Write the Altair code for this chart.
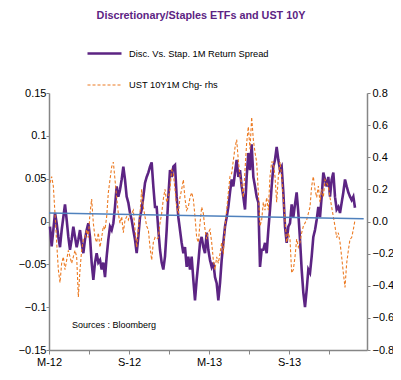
import altair as alt
import pandas as pd

title_text = "Discretionary/Staples ETFs and UST 10Y"
purple_name = "Disc. Vs. Stap. 1M Return Spread"
orange_name = "UST 10Y1M Chg- rhs"
source_text = "Sources : Bloomberg"
x_tick_labels = ["M-12", "S-12", "M-13", "S-13"]
x_tick_values = [0, 3, 6, 9, 12, 15, 18, 21]   # months since Mar-2012
left_ticks = [-0.15, -0.1, -0.05, 0, 0.05, 0.1, 0.15]
right_ticks = [-0.8, -0.6, -0.4, -0.2, 0.0, 0.2, 0.4, 0.6, 0.8]

# sampling grid (months since 1 Mar 2012)
x_start = 0.075
x_step = 0.125

# Discretionary vs Staples 1M return spread (lhs)
spread = [
    -0.006, -0.029, -0.010, 0.010, -0.002, -0.018, -0.030, -0.010, 0.005, 0.020,
    0.002, -0.018, -0.033, -0.021, -0.006, -0.018, -0.030, -0.021, -0.010, -0.025,
    -0.037, -0.021, -0.010, -0.002, -0.018, -0.048, -0.068, -0.048, -0.037, -0.048,
    -0.045, -0.056, -0.048, -0.065, -0.041, -0.021, -0.006, -0.010, -0.002, 0.017,
    0.041, 0.029, 0.037, 0.049, 0.064, 0.049, 0.029, 0.022, 0.010,
    0.002, -0.010, -0.021, -0.037, -0.018, 0.005, 0.014, 0.029, 0.045, 0.052,
    0.057, 0.064, 0.069, 0.041, 0.017, 0.017, -0.010, -0.033, -0.048, -0.056,
    -0.041, -0.010, 0.029, 0.060, 0.052, 0.064, 0.066, 0.029, 0.005, -0.010,
    -0.025, -0.037, -0.030, -0.053, -0.041, -0.056, -0.041, -0.068, -0.092, -0.068,
    -0.048, -0.025, -0.018, -0.030, -0.037, -0.013, -0.033, -0.045,
    -0.053, -0.048, -0.065, -0.072, -0.092, -0.072, -0.045, -0.025, -0.006, 0.005,
    0.017, 0.034, 0.049, 0.041, 0.057, 0.072, 0.052, 0.060, 0.041, 0.029,
    0.014, 0.052, 0.080, 0.060, 0.090, 0.052, 0.041, 0.029, 0.022, -0.053,
    -0.033, -0.033, -0.025, -0.037, -0.010, 0.014, 0.041, 0.064, 0.072, 0.087,
    0.072, 0.060, 0.064, 0.034, -0.006, -0.025, -0.006, -0.002,
    0.020, 0.005, 0.020, 0.034, 0.010, -0.021, -0.056, -0.083, -0.100, -0.080,
    -0.056, -0.060, -0.041, -0.018, -0.010, 0.002, 0.017, 0.005, 0.029, 0.057,
    0.049, 0.041, 0.052, 0.029, 0.049, 0.057, 0.029, 0.014, 0.017, 0.010,
    0.022, 0.034, 0.049, 0.041, 0.034, 0.029, 0.025, 0.029, 0.016,
]

# UST 10Y 1M change (rhs)
ust = [
    0.24, 0.28, 0.22, 0.05, -0.13, -0.30, -0.38, -0.26, -0.22, -0.30,
    -0.24, -0.18, -0.22, -0.26, -0.22, -0.18, -0.22, -0.47, -0.30, -0.18,
    -0.11, -0.10, -0.05, -0.10, 0.05, 0.14, -0.01, -0.10, -0.13, -0.07,
    -0.16, -0.10, -0.03, -0.05, 0.03, 0.18, 0.26, 0.34, 0.37, 0.26,
    0.15, 0.05, -0.01, 0.03, -0.07, 0.01, 0.03, 0.01, 0.05,
    0.05, 0.07, -0.05, -0.16, -0.05, 0.05, 0.20, 0.09, 0.03, -0.03,
    -0.05, -0.16, -0.24, -0.13, -0.10, -0.11, -0.10, -0.01, 0.05, 0.14,
    0.20, 0.12, 0.15, 0.20, 0.32, 0.30, 0.20, 0.09, 0.05, 0.15,
    0.20, 0.26, 0.14, 0.07, 0.09, 0.15, 0.18, 0.14, 0.03, -0.10,
    -0.13, -0.01, 0.09, 0.05, -0.05, -0.11, -0.07, -0.05,
    -0.13, -0.24, -0.30, -0.22, -0.26, -0.20, -0.13, -0.20, -0.03, 0.07,
    0.18, 0.28, 0.30, 0.38, 0.46, 0.51, 0.38, 0.28, 0.24, 0.15,
    0.32, 0.49, 0.59, 0.45, 0.65, 0.51, 0.43, 0.37, 0.18, -0.03,
    0.01, 0.12, 0.07, 0.15, 0.07, 0.28, 0.37, 0.37, 0.28, 0.12,
    0.28, 0.37, 0.28, 0.14, 0.01, -0.13, -0.07, -0.11,
    -0.32, -0.30, -0.22, -0.11, -0.16, -0.13, -0.07, -0.03, -0.01, 0.01,
    0.05, 0.09, 0.22, 0.28, 0.20, 0.15, 0.22, 0.12, 0.20, 0.15,
    0.26, 0.24, 0.22, 0.15, 0.09, 0.03, -0.03, -0.10, -0.07, -0.13,
    -0.22, -0.32, -0.41, -0.26, -0.18, -0.11, -0.10, -0.05, 0.01,
]

# linear trend of the spread (lhs)
trend_x = [0.0, 23.6]
trend_v = [0.0098, 0.0032]

PURPLE = "#5C2483"
ORANGE = "#EC7A22"
BLUE = "#4F81BD"
FONT = "Liberation Sans"

xs = [x_start + i * x_step for i in range(len(spread))]
df_p = pd.DataFrame({"m": xs, "v": spread, "series": purple_name})
df_o = pd.DataFrame({"m": xs, "v": ust, "series": orange_name})
df_t = pd.DataFrame({"m": trend_x, "v": trend_v})
df_s = pd.DataFrame({"t": [source_text]})
df_title = pd.DataFrame({"t": [title_text]})

lab_arr = "[" + ",".join("'" + s + "'" for s in x_tick_labels) + "]"
x_scale = alt.Scale(domain=[0, 23.85], nice=False, zero=False)
x_axis = alt.Axis(
    values=x_tick_values,
    labelExpr=f"datum.value % 6 == 0 ? {lab_arr}[datum.value / 6] : ''",
    title=None, grid=False, tickSize=4, labelPadding=2, labelFlush=False,
)
X = alt.X("m:Q", scale=x_scale, axis=x_axis)

legend = alt.Legend(
    title=None, orient="none", legendX=37, legendY=-58, direction="vertical",
    symbolType="stroke", symbolSize=1156, labelFontSize=9.3, labelFont=FONT,
    labelColor="#000000", rowPadding=8, labelOffset=6, padding=0,
)
dom = [purple_name, orange_name]
color = alt.Color("series:N", scale=alt.Scale(domain=dom, range=[PURPLE, ORANGE]), legend=legend)
dash = alt.StrokeDash("series:N", scale=alt.Scale(domain=dom, range=[[1, 0], [3, 2]]), legend=legend)
sw = alt.StrokeWidth("series:N", scale=alt.Scale(domain=dom, range=[2.6, 1.1]), legend=legend)

left_expr = ("datum.value >= -0.0001 ? format(datum.value, '~g') + '\u2002' : format(datum.value, '~g')")

purple = alt.Chart(df_p).mark_line().encode(
    x=X,
    y=alt.Y("v:Q", scale=alt.Scale(domain=[-0.15, 0.15], nice=False),
            axis=alt.Axis(orient="left", values=left_ticks, labelExpr=left_expr,
                          title=None, grid=False, tickSize=3, labelPadding=0)),
    color=color, strokeDash=dash, strokeWidth=sw,
)
orange = alt.Chart(df_o).mark_line().encode(
    x=X,
    y=alt.Y("v:Q", scale=alt.Scale(domain=[-0.8, 0.8], nice=False),
            axis=alt.Axis(orient="right", values=right_ticks, format=".1f",
                          title=None, grid=False, tickSize=3, labelPadding=2)),
    color=color, strokeDash=dash, strokeWidth=sw,
)
trend = alt.Chart(df_t).mark_line(color=BLUE, strokeWidth=1.5).encode(
    x=X,
    y=alt.Y("v:Q", scale=alt.Scale(domain=[-0.15, 0.15], nice=False), axis=None),
)
source = alt.Chart(df_s).mark_text(
    align="left", baseline="middle", fontSize=9, font=FONT, color="#000000"
).encode(text="t:N", x=alt.value(23), y=alt.value(232))
title = alt.Chart(df_title).mark_text(
    align="center", baseline="middle", fontSize=10.8, font=FONT, fontWeight="bold",
    color=PURPLE,
).encode(text="t:N", x=alt.value(152), y=alt.value(-77))

chart = alt.layer(purple, orange, trend, source, title).resolve_scale(
    y="independent"
).properties(
    width=318, height=257,
    autosize=alt.AutoSizeParams(type="none"),
    padding={"left": 41, "top": 85, "right": 26, "bottom": 21},
).configure_view(stroke=None).configure_axis(
    labelFont=FONT, labelFontSize=11, labelColor="#000000",
    domainColor="#868686", tickColor="#868686", domainWidth=1.5,
)

chart.save("out.html", embed_options={"renderer": "svg", "actions": False})
